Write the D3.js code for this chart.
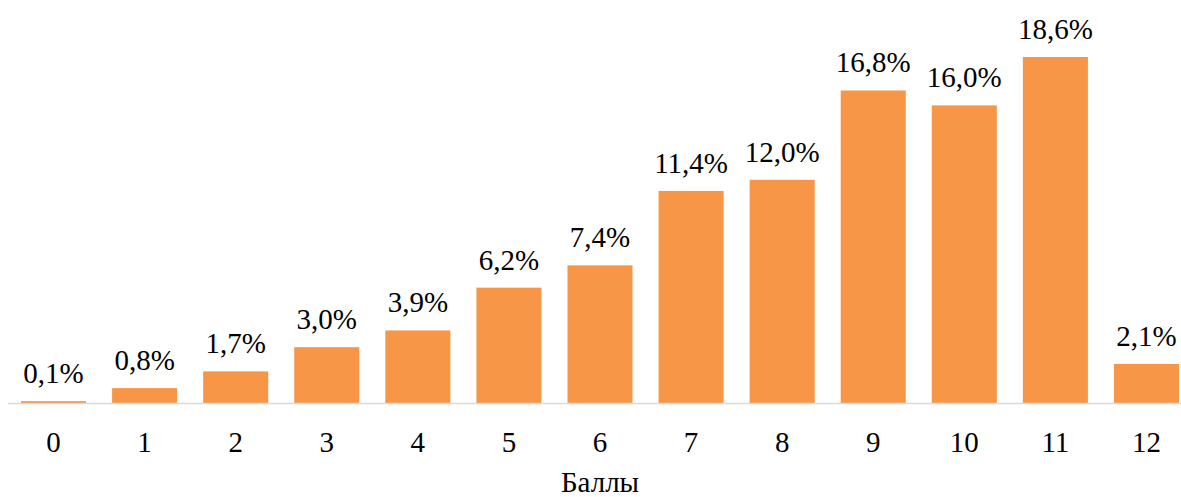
<!DOCTYPE html>
<html>
<head>
<meta charset="utf-8">
<script src="https://cdn.jsdelivr.net/npm/d3@7"></script>
<style>
  html, body { margin: 0; background: #fff; }
  text { font-family: "Liberation Serif", "Times New Roman", Tinos !important; font-size: 29px; }
</style>
</head>
<body>
<svg id="chart" width="1181" height="497"></svg>
<script>
// Score distribution: share of participants per score
const scores = ["0", "1", "2", "3", "4", "5", "6", "7", "8", "9", "10", "11", "12"];
const shares = [0.1, 0.8, 1.7, 3.0, 3.9, 6.2, 7.4, 11.4, 12.0, 16.8, 16.0, 18.6, 2.1];
const axisTitle = "Баллы";

const svg = d3.select("#chart");
const baseY = 403;

const x = d3.scaleBand()
  .domain(scores)
  .range([8, 1192])
  .paddingInner(0.286)
  .paddingOuter(0.143);

const y = d3.scaleLinear()
  .domain([0, 18.6])
  .range([baseY, 57]);

const data = scores.map((s, i) => ({ s, v: shares[i] }));

// bars
svg.selectAll("rect.bar")
  .data(data)
  .join("rect")
  .attr("class", "bar")
  .attr("x", d => x(d.s))
  .attr("y", d => y(d.v))
  .attr("width", x.bandwidth())
  .attr("height", d => baseY - y(d.v))
  .attr("fill", "#F79646");

// baseline axis
svg.append("line")
  .attr("x1", 8).attr("x2", 1181)
  .attr("y1", baseY + 0.5).attr("y2", baseY + 0.5)
  .attr("stroke", "#d9d9d9")
  .attr("stroke-width", 1.5);

// all texts: value labels, category labels, axis title
const fmt = v => d3.format(".1f")(v).replace(".", ",") + "%";
const labels = [
  ...data.map(d => ({ t: fmt(d.v), x: x(d.s) + x.bandwidth() / 2, y: y(d.v) - 18 })),
  ...scores.map(s => ({ t: s, x: x(s) + x.bandwidth() / 2, y: 452 })),
  { t: axisTitle, x: 600, y: 492 }
];

svg.selectAll("text.lbl")
  .data(labels)
  .join("text")
  .attr("class", "lbl")
  .attr("x", d => d.x)
  .attr("y", d => d.y)
  .attr("text-anchor", "middle")
  .attr("font-family", "Liberation Serif")
  .attr("font-size", 29)
  .text(d => d.t);
</script>
</body>
</html>
